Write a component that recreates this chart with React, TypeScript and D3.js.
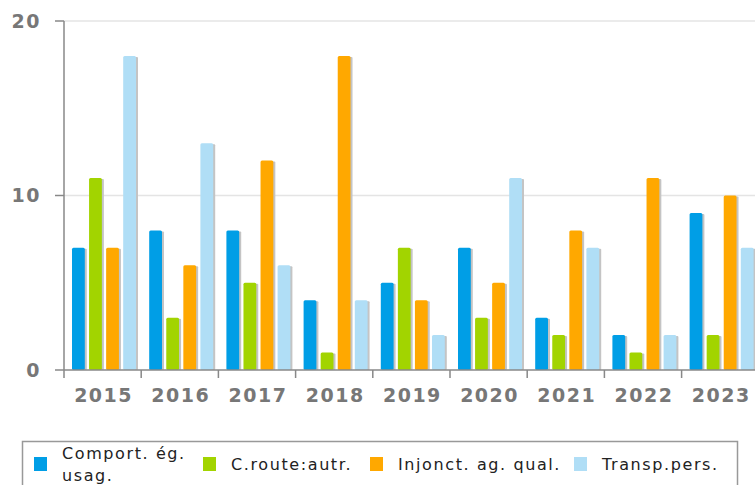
import * as d3 from "d3";

const years = ["2015", "2016", "2017", "2018", "2019", "2020", "2021", "2022", "2023"];
const seriesNames = ["Comport. ég. usag.", "C.route:autr.", "Injonct. ag. qual.", "Transp.pers."];
const comportEgUsag = [7, 8, 8, 4, 5, 7, 3, 2, 9];
const crouteAutr = [11, 3, 5, 1, 7, 3, 2, 1, 2];
const injonctAgQual = [7, 6, 12, 18, 4, 5, 8, 11, 10];
const transpPers = [18, 13, 6, 4, 2, 11, 7, 2, 7];
const yTicks = [0, 10, 20];

const colors = ["#009ee6", "#a2d400", "#ffa800", "#b0def6"];

export default function App() {
  const W = 755;
  const H = 485;
  const left = 64;
  const top = 21;
  const bottom = 370;
  const bandW = 77.2;

  const series = [comportEgUsag, crouteAutr, injonctAgQual, transpPers];

  const x = d3
    .scaleBand()
    .domain(years)
    .range([left, left + bandW * years.length])
    .paddingInner(0)
    .paddingOuter(0);
  const inner = d3
    .scaleBand()
    .domain(seriesNames)
    .range([8, 8 + 64])
    .paddingInner(0.25)
    .paddingOuter(0);
  const y = d3.scaleLinear().domain([0, 20]).range([bottom, top]);

  const labelStyle = {
    fontFamily: "DejaVu Sans",
    fontWeight: "bold",
    fontSize: 19,
    fill: "#777",
    letterSpacing: 1.5,
  } as const;

  const legendX = [34, 203, 370, 574];

  return (
    <svg width={W} height={H} style={{ position: "absolute", left: 0, top: 0 }}>
      <rect width={W} height={H} fill="#fff" />
      {/* grid */}
      {yTicks.slice(1).map((t) => (
        <line key={t} x1={left} x2={W} y1={y(t)} y2={y(t)} stroke="#e4e4e4" strokeWidth={1.5} />
      ))}
      {/* bars */}
      {years.map((yr, i) => (
        <g key={yr} transform={`translate(${x(yr)},0)`}>
          {series.map((s, k) => {
            const bx = inner(seriesNames[k])!;
            const by = y(s[i]);
            const bh = bottom - by;
            return (
              <g key={k}>
                <rect x={bx + 2} y={by + 1} width={inner.bandwidth()} height={bh - 1} fill="#c4c4c4" rx={1} />
                <rect x={bx} y={by} width={inner.bandwidth()} height={bh} fill={colors[k]} rx={1.5} />
              </g>
            );
          })}
        </g>
      ))}
      {/* y axis */}
      <line x1={left} x2={left} y1={top} y2={bottom} stroke="#888" strokeWidth={1.5} />
      {yTicks.map((t) => (
        <g key={t}>
          <line x1={left - 9} x2={left} y1={y(t)} y2={y(t)} stroke="#888" strokeWidth={1.5} />
          <text x={41} y={y(t)} dy="0.36em" textAnchor="end" {...labelStyle}>
            {t}
          </text>
        </g>
      ))}
      {/* x axis */}
      <line x1={left} x2={W} y1={bottom} y2={bottom} stroke="#888" strokeWidth={1.5} />
      {years.map((yr) => (
        <g key={yr}>
          <line x1={x(yr)!} x2={x(yr)!} y1={bottom} y2={bottom + 8} stroke="#888" strokeWidth={1.5} />
          <text x={x(yr)! + bandW / 2 + 1} y={402} textAnchor="middle" {...labelStyle}>
            {yr}
          </text>
        </g>
      ))}
      {/* legend */}
      <rect x={22.5} y={441.5} width={715} height={60} fill="#fff" stroke="#999" strokeWidth={1.5} />
      {seriesNames.map((name, k) => {
        const lx = legendX[k];
        const lines = k === 0 ? ["Comport. ég.", "usag."] : [name];
        return (
          <g key={name}>
            <rect x={lx} y={457} width={13} height={14} fill={colors[k]} />
            <text fontFamily="DejaVu Sans" fontSize={16} fill="#222" letterSpacing={1.6}>
              {lines.map((ln, j) => (
                <tspan key={j} x={lx + 28} y={lines.length === 1 ? 470 : 459 + j * 22}>
                  {ln}
                </tspan>
              ))}
            </text>
          </g>
        );
      })}
    </svg>
  );
}
